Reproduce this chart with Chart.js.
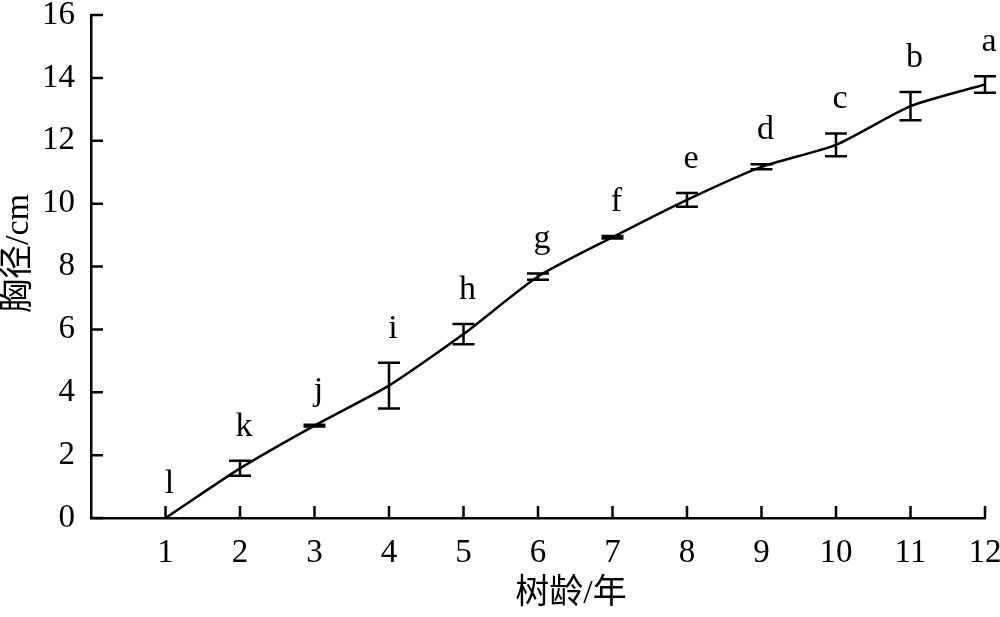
<!DOCTYPE html>
<html>
<head>
<meta charset="utf-8">
<script src="https://cdn.jsdelivr.net/npm/chart.js@4.4.1/dist/chart.umd.min.js"></script>
<style>
  html, body { margin: 0; padding: 0; background: #fff; }
  #wrap { width: 1000px; height: 617px; }
</style>
</head>
<body>
<div id="wrap"><canvas id="c" width="1000" height="617"></canvas></div>
<script>
// 树龄 (年)
let ages = [1, 2, 3, 4, 5, 6, 7, 8, 9, 10, 11, 12];
// 胸径 平均值 (cm)
let dbh = [0, 1.58, 2.94, 4.21, 5.85, 7.68, 8.93, 10.12, 11.17, 11.87, 13.1, 13.79];
// 标准差
let errs = [0, 0.24, 0.03, 0.73, 0.32, 0.1, 0.04, 0.22, 0.08, 0.36, 0.45, 0.26];
// 显著性字母
let letters = ['l', 'k', 'j', 'i', 'h', 'g', 'f', 'e', 'd', 'c', 'b', 'a'];
let xTitle = '树龄/年';
let yTitle = '胸径/cm';

const serif = '"Liberation Serif", "Times New Roman", "Noto Sans CJK SC", serif';
const ink = '#000';

// error bars + letters
const errorBars = {
  id: 'errorBars',
  afterDatasetsDraw(chart) {
    const ctx = chart.ctx;
    const xs = chart.scales.x, ys = chart.scales.y;
    ctx.save();
    ctx.strokeStyle = ink;
    ctx.lineWidth = 2.5;
    ctx.fillStyle = ink;
    ctx.font = '34px ' + serif;
    ctx.textAlign = 'center';
    ctx.textBaseline = 'middle';
    for (let i = 0; i < ages.length; i++) {
      const px = xs.getPixelForValue(ages[i]);
      const top = ys.getPixelForValue(dbh[i] + errs[i]);
      const bot = ys.getPixelForValue(dbh[i] - errs[i]);
      if (errs[i] > 0) {
        ctx.beginPath();
        ctx.moveTo(px, top); ctx.lineTo(px, bot);
        ctx.moveTo(px - 11, top); ctx.lineTo(px + 11, top);
        ctx.moveTo(px - 11, bot); ctx.lineTo(px + 11, bot);
        ctx.stroke();
      }
      ctx.fillText(letters[i], px + 4, top - 34);
    }
    ctx.restore();
  }
};

// inward ticks + axis titles
const innerTicks = {
  id: 'innerTicks',
  afterDraw(chart) {
    const ctx = chart.ctx;
    const xs = chart.scales.x, ys = chart.scales.y;
    const a = chart.chartArea;
    ctx.save();
    ctx.strokeStyle = ink;
    ctx.lineWidth = 2.5;
    ctx.beginPath();
    xs.ticks.forEach(t => {
      if (t.value === 0) return;
      const px = xs.getPixelForValue(t.value);
      ctx.moveTo(px, a.bottom); ctx.lineTo(px, a.bottom - 12);
    });
    ys.ticks.forEach(t => {
      const py = ys.getPixelForValue(t.value);
      ctx.moveTo(a.left, py); ctx.lineTo(a.left + 12, py);
    });
    ctx.stroke();

    ctx.fillStyle = ink;
    ctx.font = '34px ' + serif;
    ctx.textAlign = 'center';
    ctx.textBaseline = 'middle';
    ctx.fillText(xTitle, (a.left + a.right) / 2 + 33, 594);
    ctx.translate(19, (a.top + a.bottom) / 2 - 13);
    ctx.rotate(-Math.PI / 2);
    ctx.fillText(yTitle, 0, 0);
    ctx.restore();
  }
};

new Chart(document.getElementById('c'), {
  type: 'line',
  data: {
    datasets: [{
      data: ages.map((a, i) => ({ x: a, y: dbh[i] })),
      borderColor: ink,
      borderWidth: 2.5,
      pointRadius: 0,
      tension: 0.2,
      fill: false
    }]
  },
  options: {
    responsive: false,
    animation: false,
    layout: { padding: { left: 0, top: 15, right: 15, bottom: 0 } },
    plugins: { legend: { display: false }, tooltip: { enabled: false } },
    scales: {
      x: {
        type: 'linear',
        min: 0, max: 12,
        afterFit: s => { s.height = 99; s.paddingLeft = 0; s.paddingRight = 0; },
        grid: { display: false },
        border: { display: true, color: ink, width: 2.5 },
        ticks: {
          stepSize: 1, color: ink, padding: 8,
          font: { family: serif, size: 33 },
          callback: v => (v === 0 ? '' : v)
        }
      },
      y: {
        min: 0, max: 16,
        afterFit: s => { s.width = 91; s.paddingTop = 0; s.paddingBottom = 0; },
        grid: { display: false },
        border: { display: true, color: ink, width: 2.5 },
        ticks: {
          stepSize: 2, color: ink, padding: 8,
          font: { family: serif, size: 33 }
        }
      }
    }
  },
  plugins: [errorBars, innerTicks]
});
</script>
</body>
</html>
